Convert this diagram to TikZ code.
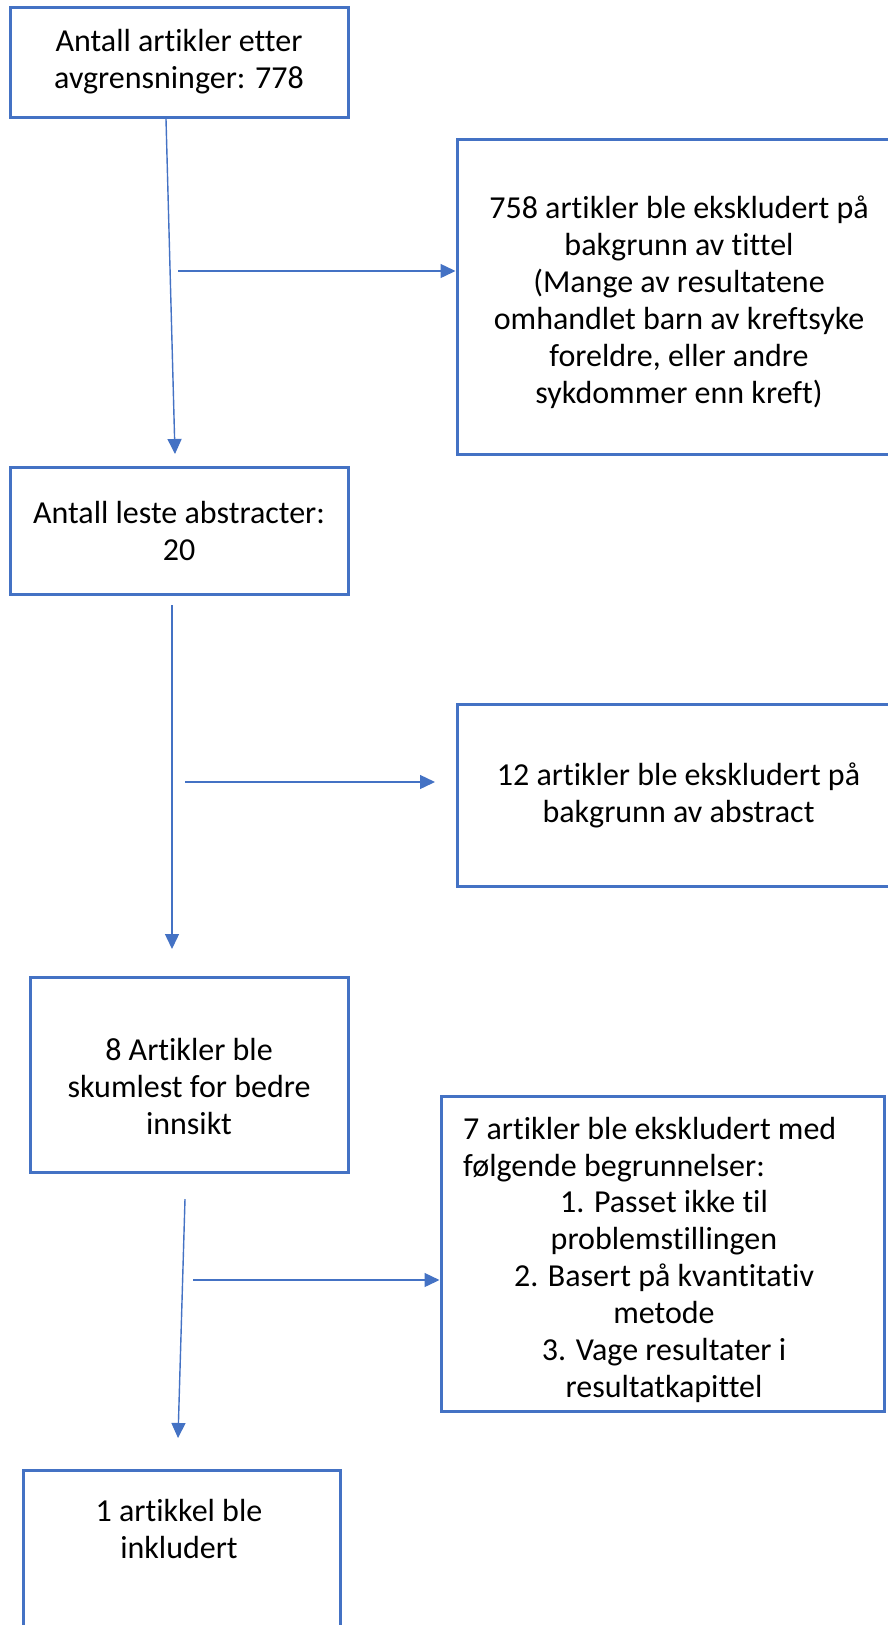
\documentclass[tikz,border=0pt]{standalone}
\usepackage{fontspec}
\setmainfont{Carlito}[Ligatures=NoCommon]
\usetikzlibrary{arrows.meta,positioning}
\definecolor{officeblue}{HTML}{4472C4}
\tikzset{
  flowbox/.style={draw=officeblue, line width=3pt, align=center, inner sep=0pt, font=\fontsize{32}{37}\selectfont},
  boxtext/.style={align=center, inner sep=0pt, font=\fontsize{32}{37}\selectfont},
  flowarrow/.style={draw=officeblue, line width=1.4pt, -{Triangle[length=15pt,width=14pt]}, fill=officeblue}
}

\begin{document}
\begin{tikzpicture}[x=1pt,y=-1pt]
        \useasboundingbox (0,0) rectangle (887,1625);
        %Boxes on the left
        \node[flowbox, minimum width=338pt, minimum height=110pt] (b1) at (179,62) {Antall artikler etter\\avgrensninger: 778};
        \node[flowbox, minimum width=338pt, minimum height=127pt] (b3) at (179,530.5) {Antall leste abstracter:\\20};
        \node[flowbox, minimum width=318pt, minimum height=195pt] (b5) at (189,1074.5) {};
        \node[boxtext] (t5) at (189,1086) {8 Artikler ble\\skumlest for bedre\\innsikt};
        \node[flowbox, minimum width=317pt, minimum height=200pt, anchor=north] (b7) at (181.5,1469) {};
        \node[boxtext] (t7) at (179,1529) {1 artikkel ble\\inkludert};
        %Boxes on the right
        \node[flowbox, minimum width=443pt, minimum height=315pt] (b2) at (678.5,296.5) {};
        \node[boxtext] (t2) at (679,302) {758 artikler ble ekskludert på\\bakgrunn av tittel\\(Mange av resultatene\\omhandlet barn av kreftsyke\\foreldre, eller andre\\sykdommer enn kreft)};
        \node[flowbox, minimum width=443pt, minimum height=182pt] (b4) at (678.5,795) {12 artikler ble ekskludert på\\bakgrunn av abstract};
        \node[flowbox, minimum width=443pt, minimum height=315pt] (b6) at (662.5,1253.5) {};
        \node[boxtext, align=left, anchor=west] (t6a) at (463,1150) {7 artikler ble ekskludert med\\følgende begrunnelser:};
        \node[boxtext] (t6b) at (664,1296) {1. Passet ikke til\\problemstillingen\\2. Basert på kvantitativ\\metode\\3. Vage resultater i\\resultatkapittel};
        %Arrow ends
        \coordinate (a1s) at (166,119);
        \coordinate (a1e) at (175,454);
        \coordinate (a2s) at (172,605);
        \coordinate (a2e) at (172,949);
        \coordinate (a3s) at (185,1199);
        \coordinate (a3e) at (178,1438);
        \coordinate (h1s) at (178,271);
        \coordinate (h2s) at (185,782);
        \coordinate (h2e) at (435,782);
        \coordinate (h3s) at (193,1280);
        %Arrows
        \draw[flowarrow] (a1s) -- (a1e);
        \draw[flowarrow] (a2s) -- (a2e);
        \draw[flowarrow] (a3s) -- (a3e);
        \draw[flowarrow] (h1s) -- (h1s -| b2.west);
        \draw[flowarrow] (h2s) -- (h2e);
        \draw[flowarrow] (h3s) -- (h3s -| b6.west);
\end{tikzpicture}
\end{document}
